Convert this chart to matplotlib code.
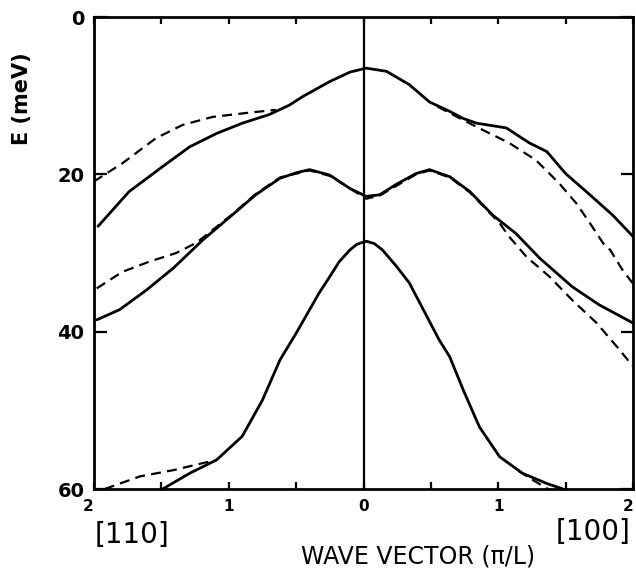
import matplotlib
matplotlib.use("Agg")
import matplotlib.pyplot as plt
import matplotlib.transforms as mtransforms
from matplotlib.ticker import FixedLocator

# Phonon-like dispersion curves, E (meV) vs wave vector (pi/L)
# left half ([110]) is stored as negative q
up_solid_q = [-1.97, -1.74, -1.49, -1.29, -1.09, -0.90, -0.70, -0.55, -0.45, -0.25, -0.10, 0.02,
              0.17, 0.34, 0.49, 0.64, 0.74, 0.84, 1.06, 1.23, 1.36, 1.50, 1.68, 1.85, 2.0]
up_solid_E = [26.6, 22.2, 19.0, 16.5, 14.8, 13.5, 12.4, 11.2, 10.1, 8.2, 7.0, 6.5,
              6.9, 8.6, 10.8, 12.0, 12.9, 13.5, 14.1, 16.0, 17.1, 19.9, 22.6, 25.2, 27.9]

up_dash_left_q = [-2.0, -1.79, -1.54, -1.34, -1.12, -0.87, -0.65]
up_dash_left_E = [20.9, 18.6, 15.4, 13.7, 12.7, 12.2, 11.8]
up_dash_right_q = [0.55, 0.74, 0.89, 1.08, 1.28, 1.45, 1.58, 1.68, 1.78, 1.83, 1.92, 2.0]
up_dash_right_E = [11.4, 13.1, 14.4, 16.0, 18.2, 21.1, 23.7, 26.2, 28.8, 29.6, 32.1, 33.9]

mid_solid_q = [-1.98, -1.81, -1.61, -1.41, -1.19, -0.99, -0.80, -0.62, -0.50, -0.40, -0.25, -0.10, 0.02,
               0.12, 0.24, 0.39, 0.49, 0.64, 0.79, 0.96, 1.13, 1.31, 1.55, 1.75, 2.0]
mid_solid_E = [38.5, 37.2, 34.7, 31.9, 28.3, 25.4, 22.6, 20.5, 19.8, 19.4, 20.1, 21.8, 22.8,
               22.6, 21.3, 19.9, 19.4, 20.3, 22.2, 25.2, 27.5, 30.7, 34.3, 36.6, 38.9]

mid_dash_q = [-1.98, -1.79, -1.59, -1.39, -1.24, -0.99, -0.80, -0.62, -0.40, -0.25, -0.10, 0.02,
              0.12, 0.24, 0.39, 0.49, 0.64, 0.79, 1.01, 1.08, 1.21, 1.38, 1.55, 1.73, 1.88, 2.0]
mid_dash_E = [34.5, 32.4, 31.1, 30.0, 28.7, 25.3, 22.5, 20.4, 19.5, 20.2, 21.8, 23.1,
              22.7, 21.5, 20.0, 19.5, 20.4, 22.3, 26.2, 27.9, 30.5, 33.0, 36.0, 38.9, 41.9, 44.4]

low_solid_q = [-1.49, -1.29, -1.09, -0.90, -0.75, -0.62, -0.50, -0.33, -0.25, -0.18, -0.10, -0.05, 0.02,
               0.08, 0.14, 0.24, 0.34, 0.56, 0.64, 0.74, 0.86, 1.01, 1.18, 1.36, 1.48]
low_solid_E = [60.0, 58.0, 56.3, 53.3, 48.7, 43.6, 40.2, 35.1, 33.0, 31.1, 29.6, 28.9, 28.5,
               28.8, 29.6, 31.6, 33.8, 41.0, 43.2, 47.4, 52.1, 55.9, 58.0, 59.3, 60.0]

low_dash_left_q = [-1.92, -1.66, -1.41, -1.19, -1.09]
low_dash_left_E = [60.0, 58.4, 57.6, 56.7, 56.3]
low_dash_right_q = [1.15, 1.27, 1.37]
low_dash_right_E = [57.7, 59.0, 60.0]

x_ticks = [-2, -1, 0, 1, 2]
x_ticklabels = ['2', '1', '0', '1', '2']
x_minor = [-1.5, -0.5, 0.5, 1.5]
y_ticks = [0, 20, 40, 60]

fig = plt.figure(figsize=(6.36, 5.71), dpi=100)
ax = fig.add_axes([0.1478, 0.1436, 0.8475, 0.8266])

solid = dict(color='black', lw=2.0, solid_capstyle='round', solid_joinstyle='round')
dash = dict(color='black', lw=1.6, dashes=(4.5, 2.8))

ax.plot(up_solid_q, up_solid_E, **solid)
ax.plot(mid_solid_q, mid_solid_E, **solid)
ax.plot(low_solid_q, low_solid_E, **solid)
ax.plot(up_dash_left_q, up_dash_left_E, **dash)
ax.plot(up_dash_right_q, up_dash_right_E, **dash)
ax.plot(mid_dash_q, mid_dash_E, **dash)
ax.plot(low_dash_left_q, low_dash_left_E, **dash)
ax.plot(low_dash_right_q, low_dash_right_E, **dash)

ax.axvline(0, color='black', lw=1.6)

ax.set_xlim(-2, 2)
ax.set_ylim(60, 0)

for s in ax.spines.values():
    s.set_linewidth(2.0)

ax.set_xticks(x_ticks)
ax.set_xticklabels(x_ticklabels, fontweight='bold', fontsize=11)
ax.xaxis.set_minor_locator(FixedLocator(x_minor))
ax.set_yticks(y_ticks)
ax.set_yticklabels([str(v) for v in y_ticks], fontweight='bold', fontsize=14)
ax.tick_params(axis='x', which='both', direction='in', top=True, length=5, width=1.6, pad=7)
ax.tick_params(axis='y', direction='in', right=True, length=9, width=1.6, pad=7)

# nudge the end labels like the original
xlabels = ax.get_xticklabels()
xlabels[0].set_transform(xlabels[0].get_transform() +
                         mtransforms.ScaledTranslation(-6 / 100, 0, fig.dpi_scale_trans))
xlabels[-1].set_transform(xlabels[-1].get_transform() +
                          mtransforms.ScaledTranslation(-5 / 100, 0, fig.dpi_scale_trans))

ax.text(-0.134, 0.828, 'E (meV)', transform=ax.transAxes, rotation=90,
        ha='center', va='center', fontsize=15, fontweight='bold')
ax.text(0.601, -0.144, 'WAVE VECTOR (π/L)', transform=ax.transAxes,
        ha='center', va='center', fontsize=17)
ax.text(0.070, -0.097, '[110]', transform=ax.transAxes,
        ha='center', va='center', fontsize=20)
ax.text(0.926, -0.091, '[100]', transform=ax.transAxes,
        ha='center', va='center', fontsize=20)

fig.savefig('out.png', dpi=100)
